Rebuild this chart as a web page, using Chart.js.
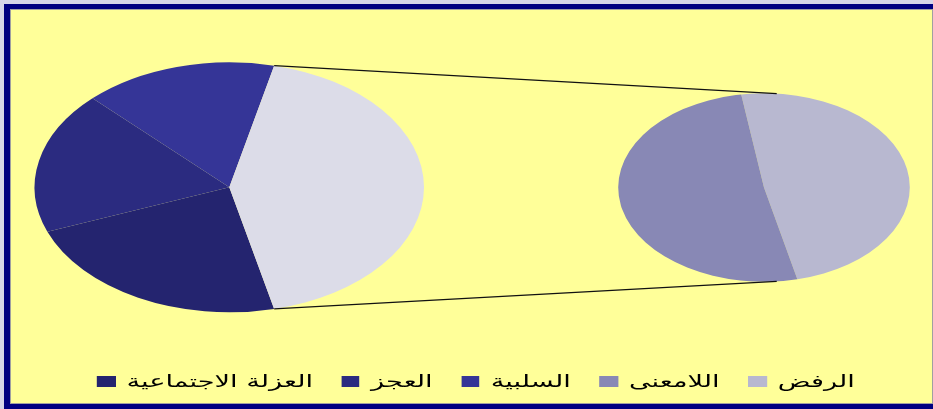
<!DOCTYPE html>
<html lang="ar">
<head>
<meta charset="UTF-8">
<title>Pie of pie</title>
<style>
    html, body {
        margin: 0;
        padding: 0;
        width: 100%;
        height: 100%;
        overflow: hidden;
        background: #d6d6e8;
    }
    .frame {
        position: absolute;
        left: 4px;
        top: 4px;
        right: 0;
        bottom: 0;
        background: #000080;
    }
    .plot-bg {
        position: absolute;
        left: 10px;
        top: 9px;
        right: 0;
        bottom: 5px;
        background: #ffff99;
        box-shadow: inset 1px 1px 0 0 #a0a0a0, inset -1px -1px 0 0 #a0a0a0;
    }
    canvas {
        position: absolute;
        left: 0;
        top: -30px;
    }
    /* the whole picture is stretched sideways, so is the legend */
    #legend {
        position: absolute;
        left: 196px;
        top: 371px;
        width: 560px;
        display: flex;
        justify-content: center;
        align-items: center;
        font-family: 'DejaVu Sans', sans-serif;
        font-size: 17px;
        color: #000;
        direction: ltr;
        transform: scaleX(1.6);
        transform-origin: center;
    }
    #legend .item {
        display: flex;
        align-items: center;
        margin: 0 9px;
    }
    #legend .box {
        flex: none;
        width: 11.3px;
        height: 11px;
        margin-right: 7px;
    }
</style>
</head>
<body>
<div class="frame"></div>
<div class="plot-bg"></div>
<canvas id="mainPie" width="933" height="439"></canvas>
<canvas id="subPie" width="933" height="439"></canvas>
<div id="legend"></div>
<script src="https://cdn.jsdelivr.net/npm/chart.js"></script>
<script>
// categories (legend order) and their shares
const labels = ['العزلة الاجتماعية', 'العجز', 'السلبية', 'اللامعنى', 'الرفض'];
const values = [22.9, 18.4, 16.1, 21.8, 20.8];
const colors = ['#24246f', '#2b2b80', '#353597', '#8888b5', '#b8b8d0'];
const otherColor = '#dcdce8';
const splitAt = 3; // last two categories go to the second pie

const mainValues = values.slice(0, splitAt);
const subValues = values.slice(splitAt);
const otherTotal = subValues.reduce((a, b) => a + b, 0);
const total = values.reduce((a, b) => a + b, 0);

// excel draws the pies squashed, so scale each one vertically around its centre
const squash = {
    id: 'squash',
    beforeDatasetsDraw(chart, args, opts) {
        const arc = chart.getDatasetMeta(0).data[0];
        const ctx = chart.ctx;
        ctx.save();
        ctx.translate(arc.x, arc.y);
        ctx.scale(1, opts.ratio);
        ctx.translate(-arc.x, -arc.y);
    },
    afterDatasetsDraw(chart) {
        chart.ctx.restore();
    }
};

const mainRatio = 0.642;
const subRatio = 0.646;

const mainChart = new Chart(document.getElementById('mainPie'), {
    type: 'pie',
    data: {
        labels: labels.slice(0, splitAt).concat(['أخرى']),
        datasets: [{
            data: mainValues.concat([otherTotal]),
            backgroundColor: colors.slice(0, splitAt).concat([otherColor]),
            borderWidth: 0,
            hoverOffset: 0
        }]
    },
    options: {
        responsive: false,
        animation: false,
        devicePixelRatio: 1,
        // other slice sits centred on the right side
        rotation: 90 + otherTotal / total * 180,
        layout: { padding: { left: 34.6, right: 509, top: 22.6, bottom: 27 } },
        plugins: {
            legend: { display: false },
            tooltip: { enabled: false },
            squash: { ratio: mainRatio }
        }
    },
    plugins: [squash]
});

// connector lines from the "other" slice to the second pie
const connectors = {
    id: 'connectors',
    afterDraw(chart) {
        const other = mainChart.getDatasetMeta(0).data[splitAt];
        const sub = chart.getDatasetMeta(0).data[0];
        const ctx = chart.ctx;
        const onMain = a => [other.x + other.outerRadius * Math.cos(a), other.y + mainRatio * other.outerRadius * Math.sin(a)];
        const onSub = a => [sub.x + sub.outerRadius * Math.cos(a), sub.y + subRatio * sub.outerRadius * Math.sin(a)];
        const tilt = 5 * Math.PI / 180;
        const pairs = [
            [onMain(other.startAngle), onSub(-Math.PI / 2 + tilt)],
            [onMain(other.endAngle), onSub(Math.PI / 2 - tilt)]
        ];
        ctx.save();
        ctx.strokeStyle = '#111';
        ctx.lineWidth = 1.2;
        pairs.forEach(([a, b]) => {
            ctx.beginPath();
            ctx.moveTo(a[0], a[1]);
            ctx.lineTo(b[0], b[1]);
            ctx.stroke();
        });
        ctx.restore();
    }
};

new Chart(document.getElementById('subPie'), {
    type: 'pie',
    data: {
        labels: labels.slice(splitAt).reverse(),
        datasets: [{
            data: subValues.slice().reverse(),
            backgroundColor: colors.slice(splitAt).reverse(),
            borderWidth: 0,
            hoverOffset: 0
        }]
    },
    options: {
        responsive: false,
        animation: false,
        devicePixelRatio: 1,
        rotation: 351,
        layout: { padding: { left: 618.2, right: 23.2, top: 71.7, bottom: 75.7 } },
        plugins: {
            legend: { display: false },
            tooltip: { enabled: false },
            squash: { ratio: subRatio }
        }
    },
    plugins: [squash, connectors]
});

// legend row along the bottom
const legend = document.getElementById('legend');
labels.forEach((name, i) => {
    const item = document.createElement('div');
    item.className = 'item';
    item.innerHTML = `<span class="box" style="background:${colors[i]}"></span><span>${name}</span>`;
    legend.appendChild(item);
});
</script>
</body>
</html>
